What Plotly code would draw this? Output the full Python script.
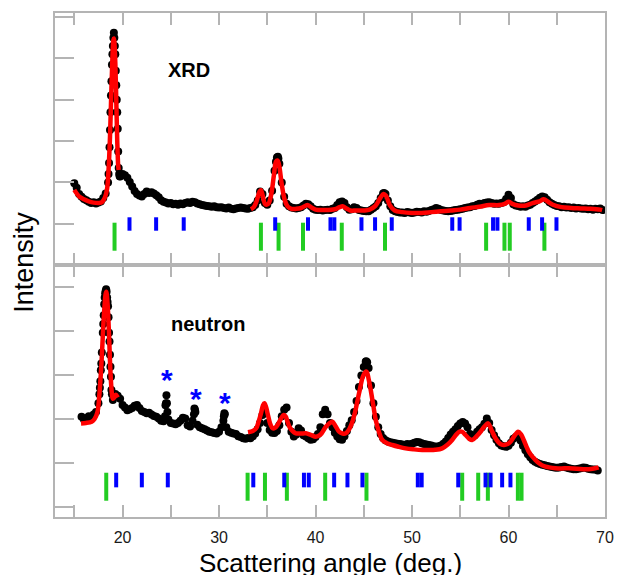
import numpy as np
import plotly.graph_objects as go

# ---------------- XRD pattern ----------------
xrd_angle = np.round(np.arange(15.0, 69.76, 0.25), 2)
xrd_obs = [
    1980, 1870, 1720, 1650,
    1600, 1570, 1530, 1500,
    1520, 1490, 1510, 1540,
    1620, 1730, 2000, 3700,
    5300, 5100, 3300, 2140,
    2200, 2170, 2110, 2010,
    1900, 1790, 1720, 1680,
    1660, 1720, 1780, 1740,
    1760, 1730, 1690, 1640,
    1570, 1530, 1510, 1490,
    1500, 1470, 1480, 1460,
    1490, 1470, 1500, 1520,
    1500, 1530, 1520, 1490,
    1470, 1450, 1440, 1430,
    1420, 1410, 1420, 1400,
    1390, 1400, 1380, 1370,
    1390, 1360, 1350, 1370,
    1380, 1390, 1380, 1370,
    1360, 1380, 1400, 1450,
    1560, 1780, 1720, 1500,
    1460, 1560, 1800, 2280,
    2600, 2450, 2000, 1650,
    1480, 1420, 1390, 1380,
    1370, 1380, 1400, 1440,
    1480, 1470, 1420, 1360,
    1340, 1330, 1340, 1320,
    1330, 1340, 1330, 1360,
    1380, 1450, 1520, 1540,
    1500, 1400, 1340, 1350,
    1400, 1380, 1330, 1320,
    1310, 1300, 1300, 1340,
    1380, 1420, 1500, 1620,
    1730, 1720, 1560, 1420,
    1330, 1300, 1280, 1270,
    1270, 1260, 1280, 1270,
    1260, 1270, 1290, 1280,
    1270, 1300, 1290, 1310,
    1330, 1350, 1380, 1360,
    1330, 1320, 1310, 1300,
    1310, 1320, 1330, 1340,
    1350, 1360, 1380, 1390,
    1400, 1420, 1430, 1460,
    1480, 1470, 1500, 1510,
    1520, 1500, 1480, 1490,
    1480, 1500, 1520, 1600,
    1700, 1620, 1470, 1440,
    1430, 1410, 1420, 1410,
    1440, 1460, 1500, 1540,
    1580, 1630, 1660, 1640,
    1580, 1520, 1480, 1450,
    1430, 1420, 1400, 1410,
    1390, 1400, 1380, 1390,
    1370, 1380, 1370, 1360,
    1370, 1350, 1360, 1340,
    1360, 1350, 1370, 1330,
]
# finer steps across the sharp reflections
xrd_peak_angle = [18.55, 18.6, 18.65, 18.7, 18.8, 18.85, 18.9, 18.95, 19.05, 19.1,
                  19.15, 19.2, 19.3, 19.35, 19.4, 19.45, 19.55, 19.6, 19.65, 19.7,
                  35.9, 36.1, 36.15, 47.1]
xrd_peak_obs = [2200, 2470, 2850, 3270, 4100, 4450, 4850, 5100, 5500, 5620,
                5500, 5300, 4700, 4350, 4000, 3700, 2750, 2350, 2200, 2150,
                2500, 2620, 2580, 1740]

# refined profile (two fitted ranges)
xrd_fit_angle_a = [15.0, 15.25, 15.5, 16.0, 16.5, 17.0, 17.5, 17.8, 18.0, 18.2, 18.4,
                   18.55, 18.7, 18.85, 18.95, 19.05, 19.1, 19.15, 19.25, 19.35,
                   19.45, 19.55, 19.6]
xrd_fit_a = [1820, 1730, 1660, 1590, 1540, 1510, 1500, 1510, 1560, 1650, 1850,
             2300, 3100, 4300, 5000, 5450, 5480, 5400, 4900, 4000,
             3000, 2400, 2300]
xrd_fit_angle_b = [33.3, 33.6, 33.9, 34.2, 34.35, 34.5, 34.8, 35.1, 35.4, 35.7, 35.9,
                   36.05, 36.2, 36.5, 36.8, 37.1, 37.5, 38.0, 38.5, 39.0, 39.2,
                   39.6, 40.0, 41.0, 42.0, 42.5, 42.8, 43.2, 43.6, 44.2, 45.0,
                   45.6, 46.2, 46.7, 47.05, 47.3, 47.7, 48.2, 49.0, 50.0, 51.0,
                   52.0, 53.0, 54.0, 55.0, 56.0, 57.0, 58.0, 59.0, 59.6, 60.0,
                   60.4, 61.0, 61.8, 62.5, 63.2, 63.65, 64.1, 64.6, 65.5, 66.5,
                   67.5, 68.5, 69.5, 69.7]
xrd_fit_b = [1350, 1400, 1550, 1780, 1810, 1700, 1470, 1480, 1700, 2200, 2500,
             2530, 2450, 1950, 1580, 1420, 1360, 1360, 1380, 1440, 1450,
             1390, 1340, 1330, 1350, 1400, 1420, 1370, 1320, 1320, 1320,
             1340, 1430, 1620, 1720, 1680, 1450, 1320, 1280, 1260, 1260,
             1280, 1300, 1320, 1340, 1380, 1410, 1450, 1450, 1480, 1530,
             1480, 1440, 1440, 1500, 1540, 1590, 1530, 1460, 1400, 1380,
             1370, 1360, 1340, 1330]

# reflection markers
xrd_green_pos = [19.17, 34.34, 36.17, 38.7, 42.72, 47.2, 57.68, 59.58, 60.13, 63.72]
xrd_blue_pos = [20.72, 23.48, 26.34, 35.82, 39.22, 41.55, 41.95, 44.76, 46.17, 47.9,
                54.17, 54.93, 58.4, 58.85, 62.1, 63.48, 64.97]

# ---------------- neutron pattern ----------------
neu_angle = np.round(np.arange(15.75, 69.3, 0.25), 2)
neu_obs = [
    2040,
    1980, 2010, 2050, 2030,
    2090, 2150, 2350, 3100,
    4150, 4900, 4550, 3180,
    2420, 2560, 2520, 2450,
    2310, 2250, 2190, 2210,
    2240, 2290, 2310, 2240,
    2170, 2150, 2120, 2130,
    2090, 2060, 2040, 2000,
    1950, 1940, 2350, 1980,
    1900, 1890, 1870, 1900,
    1950, 2020, 2000, 1850,
    1820, 1950, 2200, 1860,
    1800, 1780, 1760, 1730,
    1700, 1690, 1670, 1660,
    1700, 1800, 2050, 1800,
    1700, 1680, 1660, 1650,
    1600, 1580, 1550, 1540,
    1560, 1550, 1600, 1660,
    1760, 1900, 2080, 2150,
    1900, 1740, 1680, 1670,
    1720, 1850, 2050, 2200,
    2250, 1900, 1700, 1590,
    1640, 1780, 1730, 1620,
    1590, 1550, 1520, 1530,
    1580, 1650, 1800, 2100,
    2200, 2100, 1900, 1800,
    1680, 1590, 1530, 1520,
    1600, 1720, 1850, 1960,
    2150, 2400, 2720, 2980,
    3170, 3300, 3150, 2750,
    2350, 2040, 1800, 1650,
    1560, 1510, 1480, 1460,
    1450, 1440, 1430, 1420,
    1410, 1400, 1420, 1410,
    1430, 1450, 1470, 1460,
    1440, 1420, 1410, 1400,
    1390, 1370, 1360, 1370,
    1390, 1430, 1480, 1560,
    1640, 1700, 1760, 1830,
    1890, 1920, 1890, 1800,
    1650, 1590, 1620, 1700,
    1760, 1800, 1880, 2000,
    1900, 1740, 1620, 1520,
    1440, 1390, 1370, 1360,
    1380, 1450, 1540, 1580,
    1590, 1500, 1380, 1280,
    1190, 1120, 1060, 1020,
    990, 970, 950, 940,
    920, 910, 900, 890,
    880, 890, 900, 910,
    890, 870, 860, 850,
    850, 860, 870, 890,
    880, 860, 850, 840,
    840, 820,
]
neu_peak_angle = [17.6, 17.65, 17.7, 17.8, 17.85, 17.95, 18.05, 18.1, 18.15, 18.2,
                  18.3, 18.35, 18.4, 18.45, 18.55, 18.6, 18.65, 18.7, 18.8, 18.85,
                  18.9, 24.4, 24.45, 24.55, 24.6, 24.65, 27.4, 27.45, 27.55,
                  30.45, 30.55, 30.6, 45.2, 45.35]
neu_peak_obs = [2550, 2700, 2850, 3250, 3500, 3950, 4350, 4600, 4750, 4850,
                4940, 4880, 4750, 4650, 4300, 3950, 3750, 3450, 2950, 2650,
                2550, 2050, 2300, 2530, 2350, 2150, 2100, 2230, 2150,
                1950, 2120, 2100, 3290, 3280]

neu_fit_angle_a = [15.7, 16.2, 16.8, 17.1, 17.4, 17.6, 17.8, 17.95, 18.1, 18.25, 18.32,
                   18.45, 18.6, 18.75, 18.9, 19.0, 19.15, 19.3, 19.45, 19.5]
neu_fit_a = [1890, 1900, 1930, 1990, 2150, 2550, 3200, 3850, 4450, 4830, 4880,
             4600, 3900, 3050, 2560, 2450, 2480, 2540, 2500, 2480]
neu_fit_angle_b = [33.0, 33.5, 33.85, 34.1, 34.35, 34.55, 34.7, 34.85, 35.05, 35.3,
                   35.55, 35.8, 36.06, 36.4, 36.7, 36.9, 37.1, 37.3, 37.6, 37.96,
                   38.5, 39.0, 39.5, 40.03, 40.5, 41.07, 41.5, 41.75, 42.1, 42.44,
                   42.8, 43.14, 43.5, 43.82, 44.1, 44.51, 44.9, 45.13, 45.3, 45.5,
                   45.72, 46.0, 46.24, 46.6, 46.92, 47.4, 47.96, 48.6, 49.34, 50.2,
                   51.06, 51.75, 52.4, 53.13, 53.7, 54.16, 54.6, 54.93, 55.2, 55.55,
                   55.9, 56.23, 56.7, 57.1, 57.5, 57.89, 58.2, 58.65, 59.1, 59.51,
                   59.9, 60.2, 60.6, 61.0, 61.3, 61.58, 61.85, 62.1, 62.45, 62.8,
                   63.2, 63.65, 64.2, 64.86, 65.5, 66.24, 67.1, 67.96, 68.7, 69.34]
neu_fit_b = [1690, 1720, 1780, 1930, 2120, 2300, 2346, 2280, 2100, 1880,
             1780, 1790, 1853, 1990, 2080, 2050, 1930, 1810, 1720, 1664,
             1660, 1664, 1630, 1588, 1630, 1815, 1900, 1928, 1820, 1701,
             1660, 1664, 1760, 1928, 2150, 2573, 2950, 3050, 3065, 2900,
             2649, 2280, 1967, 1680, 1512, 1440, 1399, 1360, 1323, 1300,
             1285, 1285, 1290, 1323, 1410, 1512, 1640, 1701, 1700, 1626,
             1545, 1512, 1600, 1701, 1820, 1891, 1760, 1551, 1430, 1399,
             1420, 1474, 1600, 1701, 1640, 1512, 1370, 1247, 1140, 1058,
             980, 921, 890, 869, 868, 869, 860, 846, 860, 892]

neu_green_pos = [18.31, 32.96, 34.76, 37.03, 41.0, 45.28, 55.2, 56.86, 57.86, 60.97, 61.35]
neu_blue_pos = [19.34, 22.0, 24.69, 33.55, 36.76, 38.8, 39.3, 41.93, 43.31, 44.86,
                50.6, 51.0, 54.79, 57.62, 58.14, 59.34, 60.2]

# impurity reflections in the neutron pattern
star_angle = [24.58, 27.58, 30.6]
star_level = [2951, 2535, 2437]

X_RANGE = [13, 70]
XRD_RANGE = [0, 6100]
NEU_RANGE = [-237, 5490]

BLACK = "#000000"
RED = "#ff0000"
BLUE = "#0000ff"
GREEN = "#22cc22"
FRAME = "#b4b4b4"
FONT = "Arial, Liberation Sans, sans-serif"


def tick_segments(positions, lo, hi):
    xs, ys = [], []
    for p in positions:
        xs += [p, p, None]
        ys += [lo, hi, None]
    return xs, ys


fig = go.Figure()


def add_panel(xa, ya, angle, obs, pk_angle, pk_obs, fits, green, blue, g_span, b_span):
    all_x = list(angle) + list(pk_angle)
    all_y = list(obs) + list(pk_obs)
    order = np.argsort(all_x)
    fig.add_trace(go.Scatter(
        x=np.array(all_x)[order], y=np.array(all_y)[order], mode="markers",
        marker=dict(color=BLACK, size=8), xaxis=xa, yaxis=ya, showlegend=False,
        hoverinfo="skip"))
    for fx, fy in fits:
        fig.add_trace(go.Scatter(
            x=fx, y=fy, mode="lines", line=dict(color=RED, width=4.5, shape="spline"),
            xaxis=xa, yaxis=ya, showlegend=False, hoverinfo="skip"))
    gx, gy = tick_segments(green, *g_span)
    fig.add_trace(go.Scatter(x=gx, y=gy, mode="lines", line=dict(color=GREEN, width=4),
                             xaxis=xa, yaxis=ya, showlegend=False, hoverinfo="skip"))
    bx, by = tick_segments(blue, *b_span)
    fig.add_trace(go.Scatter(x=bx, y=by, mode="lines", line=dict(color=BLUE, width=4),
                             xaxis=xa, yaxis=ya, showlegend=False, hoverinfo="skip"))


add_panel("x", "y", xrd_angle, xrd_obs, xrd_peak_angle, xrd_peak_obs,
          [(xrd_fit_angle_a, xrd_fit_a), (xrd_fit_angle_b, xrd_fit_b)],
          xrd_green_pos, xrd_blue_pos, (346, 1024), (830, 1155))
add_panel("x2", "y2", neu_angle, neu_obs, neu_peak_angle, neu_peak_obs,
          [(neu_fit_angle_a, neu_fit_a), (neu_fit_angle_b, neu_fit_b)],
          neu_green_pos, neu_blue_pos, (133, 769), (437, 769))

x_ticks = list(range(15, 71, 5))
x_text = [str(v) if v % 10 == 0 else "" for v in x_ticks]

common_x = dict(range=X_RANGE, showgrid=False, zeroline=False, showline=True,
                linecolor=FRAME, linewidth=1.5, mirror="allticks", ticks="inside",
                ticklen=12, tickcolor=FRAME, tickwidth=1.5, tickvals=x_ticks,
                automargin=False)
common_y = dict(showgrid=False, zeroline=False, showline=True, linecolor=FRAME,
                linewidth=1.5, mirror=True, ticks="inside", ticklen=19,
                tickcolor=FRAME, tickwidth=1.5, showticklabels=False, dtick=1000,
                tick0=0, automargin=False)
right_y = dict(showgrid=False, zeroline=False, showline=False, ticks="outside",
               ticklen=13, tickcolor=FRAME, tickwidth=1.5, showticklabels=False,
               dtick=1000, tick0=0, automargin=False)

fig.update_layout(
    width=619, height=575,
    margin=dict(l=55, r=14, t=13, b=58, pad=0),
    paper_bgcolor="white", plot_bgcolor="white",
    font=dict(family=FONT, color="#000000"),
    xaxis=dict(common_x, anchor="y", showticklabels=False),
    yaxis=dict(common_y, domain=[0.5, 1.0], anchor="x", range=XRD_RANGE),
    xaxis2=dict(common_x, anchor="y2", showticklabels=True, ticktext=x_text,
                ticklabelstandoff=5,
                tickfont=dict(size=16, color="#1a1a1a", family=FONT)),
    yaxis2=dict(common_y, domain=[0.0, 0.5], anchor="x2", range=NEU_RANGE),
    yaxis3=dict(right_y, overlaying="y", side="right", anchor="x", range=XRD_RANGE),
    yaxis4=dict(right_y, overlaying="y2", side="right", anchor="x2", range=NEU_RANGE),
)

annotations = [
    dict(text="<b>XRD</b>", x=26.9, y=4721, xref="x", yref="y", showarrow=False,
         xanchor="center", yanchor="middle",
         font=dict(size=20, family=FONT, color="#000000")),
    dict(text="<b>neutron</b>", x=28.9, y=4149, xref="x2", yref="y2", showarrow=False,
         xanchor="center", yanchor="middle",
         font=dict(size=20, family=FONT, color="#000000")),
    dict(text="Intensity", x=-0.056, y=0.505, xref="paper", yref="paper",
         xanchor="center", yanchor="middle",
         showarrow=False, textangle=-90, font=dict(size=27, family=FONT, color="#000000")),
    dict(text="Scattering angle (deg.)", x=0.5, y=-0.091, xref="paper", yref="paper",
         xanchor="center", yanchor="middle",
         showarrow=False, font=dict(size=26, family=FONT, color="#000000")),
]
for sx, sy in zip(star_angle, star_level):
    annotations.append(dict(text="<b>*</b>", x=sx, y=sy, xref="x2", yref="y2",
                            showarrow=False, yshift=-3, xanchor="center",
                            yanchor="middle",
                            font=dict(size=30, family=FONT, color=BLUE)))
fig.update_layout(annotations=annotations)

fig.write_html("out.html")
